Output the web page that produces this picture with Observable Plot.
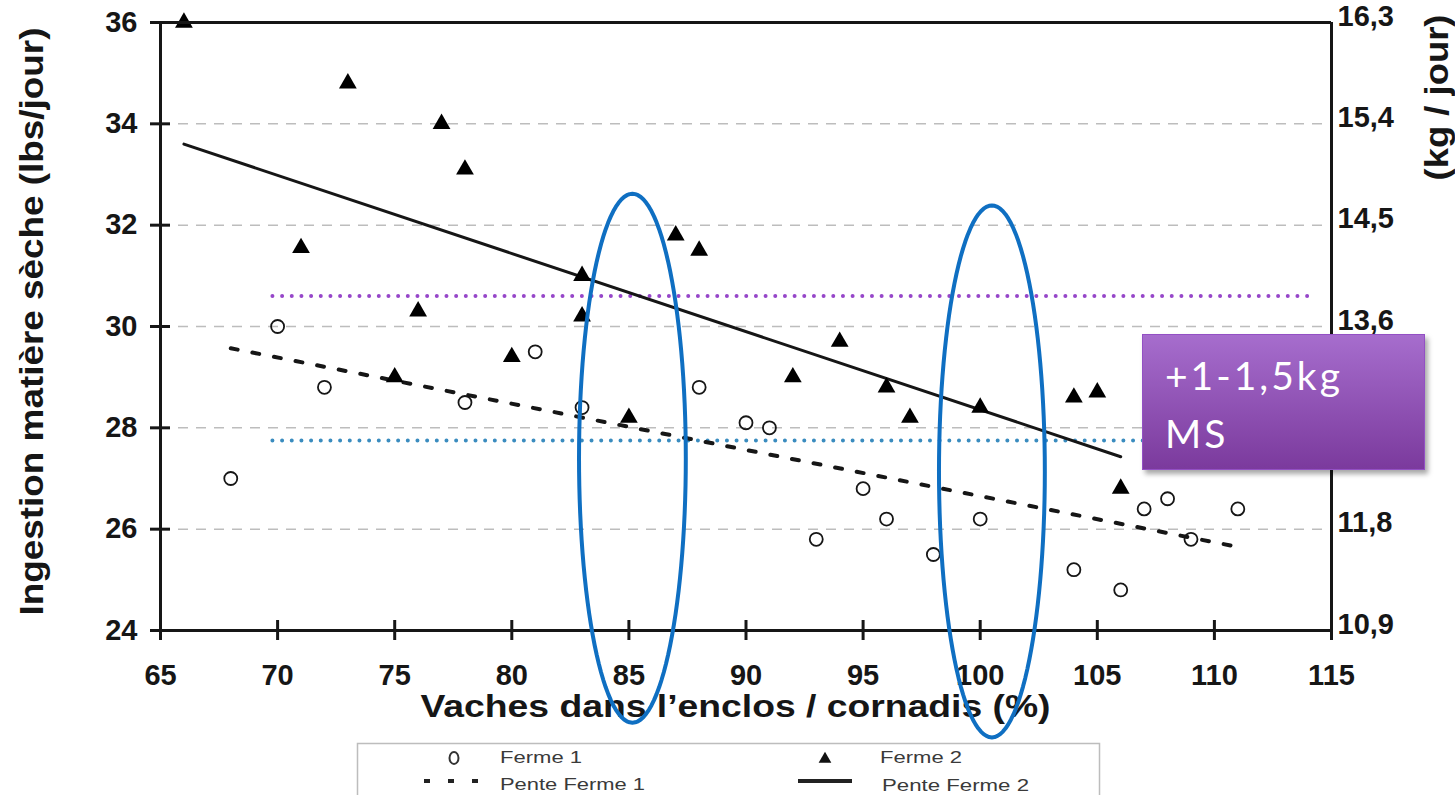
<!DOCTYPE html>
<html><head><meta charset="utf-8">
<script src="https://cdn.jsdelivr.net/npm/d3@7"></script>
<script src="https://cdn.jsdelivr.net/npm/@observablehq/plot@0.6"></script>
<style>
body{margin:0;background:#fff;overflow:hidden;}
#wrap{position:relative;width:1455px;height:795px;background:#fff;}
#wrap svg{display:block;}
#box{position:absolute;left:1142px;top:334px;width:283px;height:136px;box-sizing:border-box;
 background:linear-gradient(#a66dcd,#7b3a9d);border:1.5px solid #9350c4;box-shadow:3px 4px 5px rgba(0,0,0,.35);
 color:#fff;font-family:Lato,"Open Sans",sans-serif;font-size:39px;line-height:58px;letter-spacing:3px;padding:11px 0 0 22px;}
</style></head><body><div id="wrap"></div>
<script>
// ---- data ----
const xTicks = [65,70,75,80,85,90,95,100,105,110,115];
const yTicks = [24,26,28,30,32,34,36];
const gridTicks = [26,28,30,32,34];
const kgLabels = ["10,9","11,8","12,7","13,6","14,5","15,4","16,3"];

const ferme1X = [68,70,72,78,81,83,88,90,91,93,95,96,98,100,104,106,107,108,109,111];
const ferme1Y = [27.0,30.0,28.8,28.5,29.5,28.4,28.8,28.1,28.0,25.8,26.8,26.2,25.5,26.2,25.2,24.8,26.4,26.6,25.8,26.4];

const ferme2X = [66,71,73,75,76,77,78,80,83,83,85,87,88,92,94,96,97,100,104,105,106];
const ferme2Y = [36.0,31.55,34.8,29.0,30.3,34.0,33.1,29.4,31.0,30.2,28.2,31.8,31.5,29.0,29.7,28.8,28.2,28.4,28.6,28.7,26.8];

const pente1X = [68,111];
const pente1Y = [29.57,25.65];
const pente2X = [66,106];
const pente2Y = [33.6,27.43];

const refPurpleY = [30.6];
const refBlueY = [27.75];
const refX1 = [69.8];
const refX2 = [114];

const ellipses = [
  {cx:85.15, cy:27.4, rx:2.28, ry:5.22},
  {cx:100.5, cy:27.14, rx:2.26, ry:5.25}
];

const yTitle = "Ingestion matière sèche (lbs/jour)";
const xTitle = "Vaches dans l’enclos / cornadis (%)";
const y2Title = "(kg / jour)";

// ---- build ----
const pts = (xs, ys) => xs.map((x,i) => ({x, y: ys[i]}));
const ellipsePts = ellipses.flatMap((e,k) => d3.range(0,121).map(i => {
  const a = i/120*2*Math.PI;
  return {k, x: e.cx + e.rx*Math.cos(a), y: e.cy + e.ry*Math.sin(a)};
}));

const font = "'Liberation Sans', Arial, sans-serif";
const ink = "#161616";

const chart = Plot.plot({
  width: 1455, height: 742,
  marginLeft: 160, marginRight: 124, marginTop: 22, marginBottom: 112,
  x: {domain: [65,115]},
  y: {domain: [24,36]},
  style: {fontFamily: font, background: "white", overflow: "visible", color: ink},
  marks: [
    Plot.gridY(gridTicks, {stroke: "#bdbdbd", strokeOpacity: 1, strokeWidth: 1.5, strokeDasharray: "10,8"}),
    Plot.ruleY(refPurpleY, {x1: refX1, x2: refX2, stroke: "#9646c9", strokeWidth: 4, strokeDasharray: "0,9.67", strokeLinecap: "round"}),
    Plot.ruleY(refBlueY, {x1: refX1, x2: refX2, stroke: "#3a8cbf", strokeWidth: 4, strokeDasharray: "0,9.67", strokeLinecap: "round"}),
    Plot.line(pts(pente2X, pente2Y), {x: "x", y: "y", stroke: ink, strokeWidth: 3}),
    Plot.line(pts(pente1X, pente1Y), {x: "x", y: "y", stroke: ink, strokeWidth: 4, strokeDasharray: "7,15"}),
    Plot.dot(pts(ferme1X, ferme1Y), {x: "x", y: "y", r: 6.5, stroke: ink, strokeWidth: 1.8, fill: "none"}),
    Plot.dot(pts(ferme2X, ferme2Y), {x: "x", y: "y", symbol: "triangle", r: 6.6, fill: "#000", stroke: "none"}),
    Plot.ruleY([24,36], {stroke: ink, strokeWidth: 3}),
    Plot.ruleX([65,115], {stroke: ink, strokeWidth: 3}),
    Plot.axisY(yTicks, {anchor: "left", tickSize: 20, dx: 10, tickFormat: () => "", strokeWidth: 3, stroke: ink, label: null}),
    Plot.axisX(xTicks, {anchor: "bottom", tickSize: 20, dy: -10, tickFormat: () => "", strokeWidth: 3, stroke: ink, label: null}),
    Plot.axisY(yTicks, {anchor: "left", tickSize: 0, tickPadding: 23, tickFormat: d => String(d), fontSize: 29, fontWeight: "bold", fill: ink, label: null}),
    Plot.axisX(xTicks, {anchor: "bottom", tickSize: 0, tickPadding: 34, tickFormat: d => String(d), fontSize: 29, fontWeight: "bold", fill: ink, label: null}),
    Plot.axisY(yTicks, {anchor: "right", tickSize: 0, tickPadding: 6, dy: -6, tickFormat: d => kgLabels[yTicks.indexOf(d)], fontSize: 29, fontWeight: "bold", fill: ink, label: null}),
    Plot.text([yTitle], {text: d => d, frameAnchor: "bottom-left", textAnchor: "start", dx: -118, dy: -15, rotate: -90, fontSize: 33, fontWeight: "bold", fill: ink}),
    Plot.text([xTitle], {text: d => d, frameAnchor: "bottom-left", textAnchor: "start", dx: 260, dy: 86, fontSize: 31, fontWeight: "bold", fill: ink}),
    Plot.text([y2Title], {text: d => d, frameAnchor: "top-right", textAnchor: "start", dx: 93, dy: 158, rotate: -90, fontSize: 33, fontWeight: "bold", fill: ink}),
    Plot.line(ellipsePts, {x: "x", y: "y", z: "k", stroke: "#0f6fc2", strokeWidth: 4})
  ]
});

const stretch = {[yTitle]: 588, [xTitle]: 630, [y2Title]: 166};
chart.querySelectorAll("text").forEach(t => {
  const L = stretch[t.textContent];
  if (L) { t.setAttribute("textLength", L); t.setAttribute("lengthAdjust", "spacingAndGlyphs"); }
});

const wrap = document.getElementById("wrap");
wrap.appendChild(chart);

// ---- legend (below the chart) ----
const leg = d3.select(wrap).append("svg").attr("width", 1455).attr("height", 53)
  .style("font-family", font);
leg.append("rect").attr("x", 357.5).attr("y", 1.5).attr("width", 742).attr("height", 70)
  .attr("fill", "#fff").attr("stroke", "#bdbdbd").attr("stroke-width", 1.5);
leg.append("ellipse").attr("cx", 454).attr("cy", 16).attr("rx", 4.5).attr("ry", 6)
  .attr("fill", "none").attr("stroke", "#333").attr("stroke-width", 2);
leg.append("path").attr("d", d3.symbol(d3.symbolTriangle, 70)()).attr("transform", "translate(825,17)").attr("fill", "#111");
[427,451,475].forEach(x => leg.append("rect").attr("x", x-3).attr("y", 37).attr("width", 6).attr("height", 4).attr("fill", "#222"));
leg.append("line").attr("x1", 798).attr("x2", 852).attr("y1", 39).attr("y2", 39).attr("stroke", "#222").attr("stroke-width", 4);
const legTexts = [["Ferme 1", 500, 21, 82], ["Pente Ferme 1", 500, 48, 145], ["Ferme 2", 880, 21, 82], ["Pente Ferme 2", 882, 49, 147]];
legTexts.forEach(([s,x,y,L]) => leg.append("text").attr("x", x).attr("y", y).attr("font-size", 16).attr("fill", "#3a3a3a")
  .attr("textLength", L).attr("lengthAdjust", "spacingAndGlyphs").text(s));

// ---- annotation box ----
const box = document.createElement("div");
box.id = "box";
box.innerHTML = "+1-1,5kg<br>MS";
wrap.appendChild(box);
</script>
</body></html>
